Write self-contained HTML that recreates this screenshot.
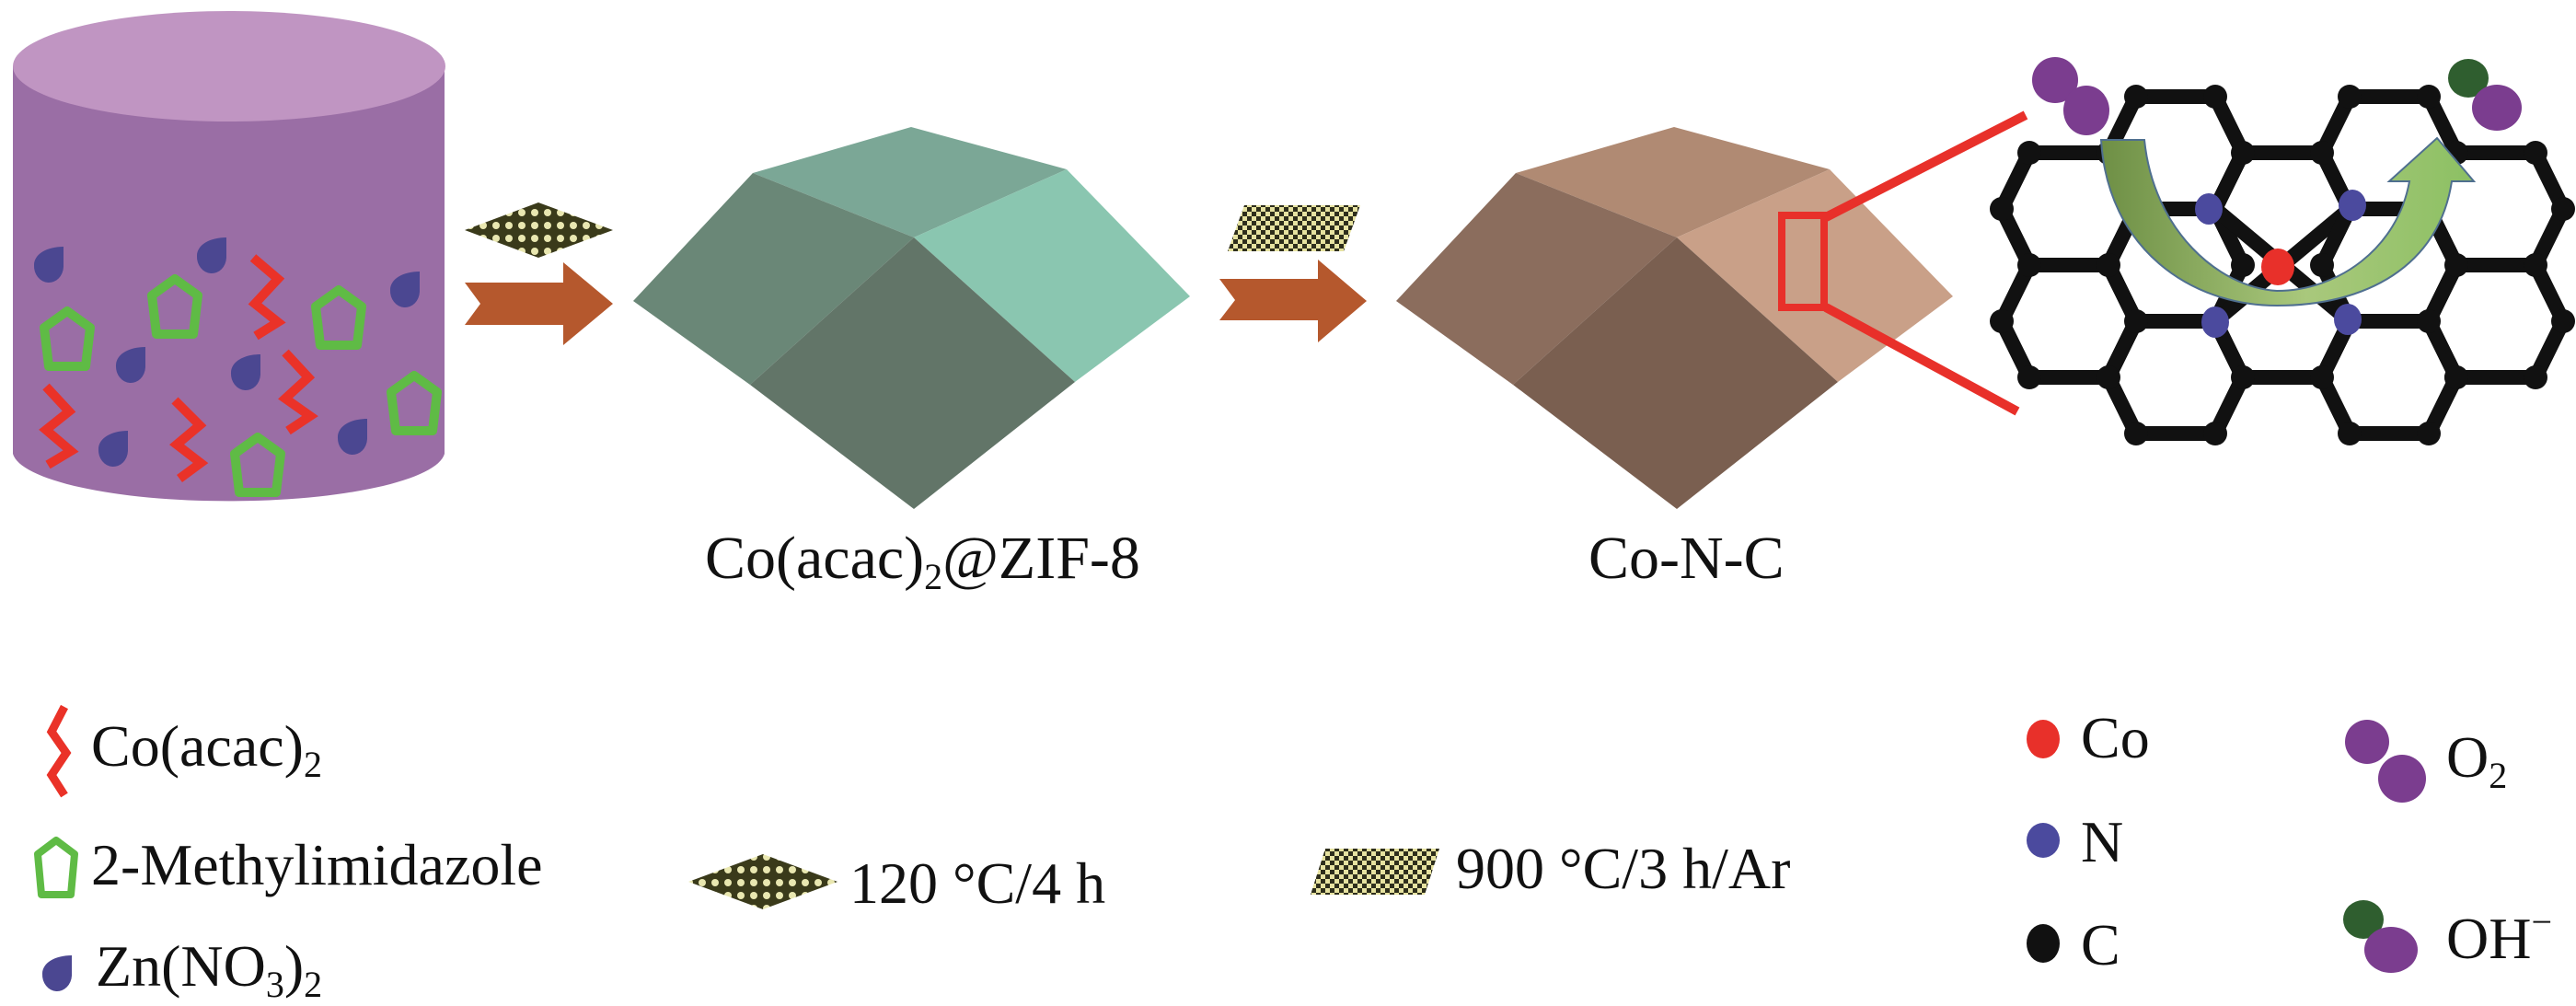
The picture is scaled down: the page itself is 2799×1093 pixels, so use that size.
<!DOCTYPE html>
<html><head><meta charset="utf-8"><style>
html,body{margin:0;padding:0;background:#fff;}
svg{display:block;}
text{font-family:"Liberation Serif",serif;fill:#111;}
</style></head><body>
<svg width="2799" height="1093" viewBox="0 0 2799 1093" xmlns="http://www.w3.org/2000/svg">
<defs>
<pattern id="mesh1" width="14" height="14" patternUnits="userSpaceOnUse">
<rect width="14" height="14" fill="#3a3a1a"/>
<circle cx="7" cy="7" r="4" fill="#e9e7b0"/>
</pattern>
<pattern id="mesh2" width="10" height="10" patternUnits="userSpaceOnUse">
<rect width="10" height="10" fill="#e6e2a0"/>
<rect width="5" height="5" fill="#2e2e1c"/><rect x="5" y="5" width="5" height="5" fill="#2e2e1c"/>
</pattern>
<linearGradient id="garr" x1="0" y1="0" x2="1" y2="0">
<stop offset="0" stop-color="#6e8f45"/><stop offset="0.55" stop-color="#a9c87c"/><stop offset="1" stop-color="#8cc063"/>
</linearGradient>
<g id="drop"><path d="M16,-20 L16,2 A16,18 0 1 1 -16,0 C-16,-12 -2,-20 16,-20 Z" fill="#4b4791"/></g>
<g id="pent"><path d="M0,-30 L25,-12 L20,30 L-20,30 L-25,-12 Z" fill="none" stroke="#5fbb45" stroke-width="10" stroke-linejoin="round"/></g>
</defs>

<!-- cylinder -->
<path d="M14,72 L14,493 A235,55 0 0 0 483,493 L483,72 Z" fill="#9a6ea5"/>
<ellipse cx="249" cy="72" rx="235" ry="60" fill="#c095c2"/>
<use href="#drop" x="53" y="288"/><use href="#drop" x="230" y="278"/><use href="#drop" x="440" y="315"/>
<use href="#drop" x="142" y="397"/><use href="#drop" x="267" y="405"/><use href="#drop" x="123" y="488"/><use href="#drop" x="383" y="475"/>
<use href="#pent" x="73" y="368"/><use href="#pent" x="190" y="333"/><use href="#pent" x="368" y="345"/>
<use href="#pent" x="450" y="438"/><use href="#pent" x="280" y="505"/>
<g fill="none" stroke="#ea3228" stroke-width="10">
<polyline points="275,280 302,303 277,330 302,350 278,365"/>
<polyline points="310,383 335,410 310,433 337,452 313,468"/>
<polyline points="50,420 75,447 50,467 77,490 52,505"/>
<polyline points="190,435 217,462 192,483 218,503 195,520"/>
</g>

<!-- arrow 1 -->
<polygon points="505,307 612,307 612,285 666,330 612,375 612,353 505,353 522,330" fill="#b5582d"/>
<polygon points="505,250 585,220 666,250 585,280" fill="url(#mesh1)"/>

<!-- green polyhedron C=993 -->
<g>
<polygon points="818,188 990,138 1159,184 993,258" fill="#7ba796"/>
<polygon points="688,327 818,188 993,258 815,418" fill="#6a8777"/>
<polygon points="993,258 1159,184 1293,322 1168,415" fill="#8ac6b0"/>
<polygon points="815,418 993,258 1168,415 993,553" fill="#627568"/>
</g>

<!-- arrow 2 -->
<polygon points="1325,303 1432,303 1432,282 1485,327 1432,372 1432,348 1325,348 1342,326" fill="#b5582d"/>
<polygon points="1352,223 1478,223 1460,273 1334,273" fill="url(#mesh2)"/>

<!-- brown polyhedron C=1822 -->
<g>
<polygon points="1647,188 1819,138 1988,184 1822,258" fill="#b08a73"/>
<polygon points="1517,327 1647,188 1822,258 1644,418" fill="#8b6d5d"/>
<polygon points="1822,258 1988,184 2122,322 1997,415" fill="#c9a088"/>
<polygon points="1644,418 1822,258 1997,415 1822,553" fill="#7a5f50"/>
</g>
<rect x="1936" y="234" width="46" height="100" fill="none" stroke="#e8302a" stroke-width="8"/>
<line x1="1984" y1="236" x2="2201" y2="125" stroke="#e8302a" stroke-width="10"/>
<line x1="1984" y1="334" x2="2192" y2="447" stroke="#e8302a" stroke-width="10"/>

<!-- graphene -->
<g stroke="#111" stroke-width="16" fill="none" stroke-linejoin="round">
<path d="M2205,166 L2291,166 L2321,227 L2291,288 L2205,288 L2175,227 Z"/>
<path d="M2205,288 L2291,288 L2321,349 L2291,410 L2205,410 L2175,349 Z"/>
<path d="M2321,105 L2407,105 L2437,166 L2407,227 L2321,227 L2291,166 Z"/>
<path d="M2321,227 L2407,227 L2437,288 L2407,349 L2321,349 L2291,288 Z"/>
<path d="M2321,349 L2407,349 L2437,410 L2407,471 L2321,471 L2291,410 Z"/>
<path d="M2407,227 L2437,166 L2523,166 L2553,227 L2523,288"/>
<path d="M2437,288 L2407,227"/>
<path d="M2407,349 L2437,410 L2523,410 L2553,349"/>
<path d="M2407,227 L2553,349 M2553,227 L2407,349"/>
<path d="M2553,105 L2639,105 L2669,166 L2639,227 L2553,227 L2523,166 Z"/>
<path d="M2553,227 L2639,227 L2669,288 L2639,349 L2553,349 L2523,288 Z"/>
<path d="M2553,349 L2639,349 L2669,410 L2639,471 L2553,471 L2523,410 Z"/>
<path d="M2669,166 L2755,166 L2785,227 L2755,288 L2669,288 L2639,227 Z"/>
<path d="M2669,288 L2755,288 L2785,349 L2755,410 L2669,410 L2639,349 Z"/>
</g>
<g fill="#111">
<circle cx="2205" cy="166" r="13"/><circle cx="2291" cy="166" r="13"/><circle cx="2175" cy="227" r="13"/><circle cx="2175" cy="349" r="13"/>
<circle cx="2205" cy="288" r="13"/><circle cx="2291" cy="288" r="13"/><circle cx="2205" cy="410" r="13"/><circle cx="2291" cy="410" r="13"/>
<circle cx="2321" cy="105" r="13"/><circle cx="2407" cy="105" r="13"/><circle cx="2437" cy="166" r="13"/><circle cx="2321" cy="227" r="13"/>
<circle cx="2321" cy="349" r="13"/><circle cx="2437" cy="410" r="13"/><circle cx="2321" cy="471" r="13"/><circle cx="2407" cy="471" r="13"/>
<circle cx="2523" cy="166" r="13"/><circle cx="2523" cy="410" r="13"/>
<circle cx="2553" cy="105" r="13"/><circle cx="2639" cy="105" r="13"/><circle cx="2669" cy="166" r="13"/><circle cx="2639" cy="227" r="13"/>
<circle cx="2639" cy="349" r="13"/><circle cx="2553" cy="471" r="13"/><circle cx="2639" cy="471" r="13"/><circle cx="2669" cy="410" r="13"/>
<circle cx="2755" cy="166" r="13"/><circle cx="2785" cy="227" r="13"/><circle cx="2785" cy="349" r="13"/><circle cx="2755" cy="288" r="13"/>
<circle cx="2755" cy="410" r="13"/><circle cx="2669" cy="288" r="13"/><circle cx="2669" cy="410" r="13"/><circle cx="2523" cy="288" r="13"/>
<circle cx="2437" cy="288" r="13"/>
</g>
<path d="M2283,152 L2330,152 C2340,250 2410,312 2474,316 C2540,316 2605,270 2618,197 L2596,197 L2648,150 L2688,197 L2664,197 C2650,290 2570,332 2474,332 C2380,332 2290,270 2283,152 Z" fill="url(#garr)" stroke="#4f6f8f" stroke-width="2"/>
<g fill="#4b4a9e">
<ellipse cx="2400" cy="227" rx="15" ry="17"/><ellipse cx="2556" cy="223" rx="15" ry="17"/>
<ellipse cx="2407" cy="350" rx="15" ry="17"/><ellipse cx="2551" cy="347" rx="15" ry="17"/>
</g>
<ellipse cx="2475" cy="290" rx="18" ry="20" fill="#e8302a"/>
<ellipse cx="2233" cy="87" rx="25" ry="25" fill="#7b3d8f"/>
<ellipse cx="2267" cy="120" rx="25" ry="27" fill="#7b3d8f"/>
<ellipse cx="2682" cy="85" rx="22" ry="21" fill="#2f5e2f"/>
<ellipse cx="2713" cy="117" rx="27" ry="25" fill="#7b3d8f"/>

<text x="766" y="628" font-size="66">Co(acac)<tspan font-size="40" dy="12">2</tspan><tspan dy="-12">@ZIF-8</tspan></text>
<text x="1726" y="628" font-size="66">Co-N-C</text>

<polyline points="70,768 56,795 72,818 56,842 70,864" fill="none" stroke="#ea3228" stroke-width="9"/>
<text x="99" y="832" font-size="64">Co(acac)<tspan font-size="40" dy="12">2</tspan></text>
<path d="M61,913 L81,928 L77,972 L45,972 L41,928 Z" fill="none" stroke="#5fbb45" stroke-width="8" stroke-linejoin="round"/>
<text x="99" y="961" font-size="64">2-Methylimidazole</text>
<path d="M78,1038 L78,1060 A16,18 0 1 1 46,1058 C46,1046 60,1038 78,1038 Z" fill="#4b4791"/>
<text x="104" y="1071" font-size="64">Zn(NO<tspan font-size="40" dy="12">3</tspan><tspan dy="-12">)</tspan><tspan font-size="40" dy="12">2</tspan></text>

<polygon points="748,958 829,928 910,958 829,988" fill="url(#mesh1)"/>
<text x="923" y="981" font-size="64">120 °C/4 h</text>
<polygon points="1440,922 1564,922 1548,972 1424,972" fill="url(#mesh2)"/>
<text x="1582" y="965" font-size="64">900 °C/3 h/Ar</text>

<ellipse cx="2220" cy="803" rx="18" ry="21" fill="#e8302a"/>
<text x="2261" y="823" font-size="64">Co</text>
<ellipse cx="2220" cy="913" rx="18" ry="19" fill="#4b4a9e"/>
<text x="2261" y="936" font-size="64">N</text>
<ellipse cx="2220" cy="1025" rx="18" ry="21" fill="#111"/>
<text x="2261" y="1048" font-size="64">C</text>

<ellipse cx="2572" cy="806" rx="24" ry="24" fill="#7b3d8f"/>
<ellipse cx="2610" cy="846" rx="26" ry="26" fill="#7b3d8f"/>
<text x="2658" y="844" font-size="64">O<tspan font-size="40" dy="12">2</tspan></text>
<ellipse cx="2568" cy="999" rx="22" ry="21" fill="#2f5e2f"/>
<ellipse cx="2598" cy="1032" rx="29" ry="25" fill="#7b3d8f"/>
<text x="2658" y="1041" font-size="64">OH<tspan font-size="40" dy="-26">−</tspan></text>
</svg>
</body></html>
